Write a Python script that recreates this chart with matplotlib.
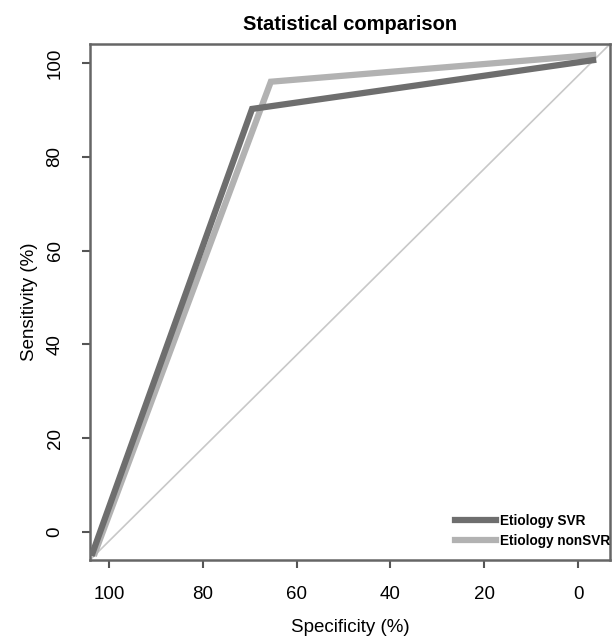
import matplotlib
matplotlib.use("Agg")
import matplotlib.pyplot as plt

plt.rcParams['font.family'] = ['Liberation Sans', 'DejaVu Sans']

# Data (specificity %, sensitivity %)
svr_spec = [103.5, 69.5, -3.2]
svr_sens = [-4.5, 90.2, 100.6]
nonsvr_spec = [103.0, 65.5, -3.2]
nonsvr_sens = [-4.5, 96.0, 101.7]
series_labels = ["Etiology SVR", "Etiology nonSVR"]
x_ticks = [100, 80, 60, 40, 20, 0]
y_ticks = [0, 20, 40, 60, 80, 100]

fig = plt.figure(figsize=(6.15, 6.43), dpi=100)
ax = fig.add_axes([0.1463, 0.1291, 0.8456, 0.8025])

ax.plot([0, 1], [0, 1], transform=ax.transAxes, color='#c8c8c8', lw=1.2, zorder=1)
ax.plot(svr_spec, svr_sens, color='#6e6e6e', lw=4.5, solid_joinstyle='miter', label=series_labels[0], zorder=3)
ax.plot(nonsvr_spec, nonsvr_sens, color='#b2b2b2', lw=4.5, solid_joinstyle='miter', label=series_labels[1], zorder=2)

ax.set_xlim(104.05, -6.8)
ax.set_ylim(-6.0, 104.05)
ax.set_xticks(x_ticks)
ax.set_yticks(y_ticks)
ax.set_xticklabels([str(v) for v in x_ticks], fontsize=13.5)
ax.set_yticklabels([str(v) for v in y_ticks], fontsize=13.5, rotation=90, va='center')
ax.tick_params(axis='x', length=6, width=1.5, color='#555555', pad=13)
ax.tick_params(axis='y', length=6, width=1.5, color='#555555', pad=13)
for s in ax.spines.values():
    s.set_color('#666666')
    s.set_linewidth(1.8)

ax.set_xlabel("Specificity (%)", fontsize=13.5, labelpad=11)
ax.set_ylabel("Sensitivity (%)", fontsize=13.5, labelpad=6)
ax.set_title("Statistical comparison", fontsize=14.5, fontweight='bold', pad=10)

leg = ax.legend(loc='lower right', frameon=False, handlelength=3.0, handletextpad=0.3,
                labelspacing=0.45, borderaxespad=0.0, borderpad=0.3,
                prop={'family': ['Liberation Sans Narrow', 'Liberation Sans'], 'weight': 'bold', 'size': 9.8},
                bbox_to_anchor=(1.008, 0.015))

fig.savefig("out.png", dpi=100)
